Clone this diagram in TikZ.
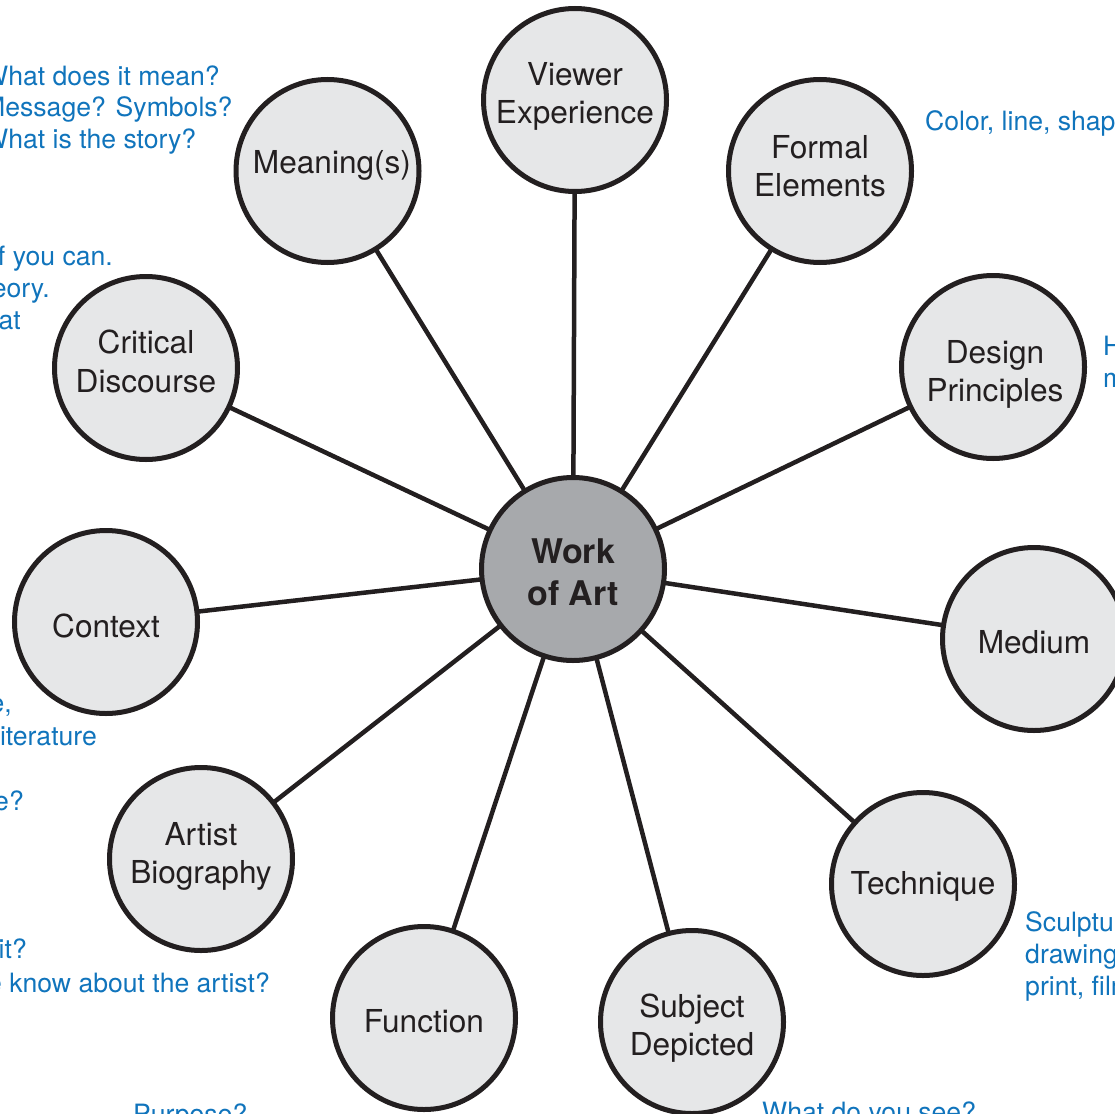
\documentclass[tikz,border=0pt]{standalone}
\usepackage{fontspec}
\setmainfont{TeX Gyre Heros}
\usetikzlibrary{backgrounds}
\definecolor{ink}{RGB}{35,31,32}
\definecolor{lightfill}{RGB}{230,231,232}
\definecolor{hubfill}{RGB}{167,169,172}
\definecolor{noteblue}{RGB}{16,116,188}
\begin{document}
\begin{tikzpicture}[x=1pt,y=-1pt,
  topic/.style={circle, draw=ink, line width=5pt, fill=lightfill, minimum size=183pt, inner sep=0pt},
  hub/.style={topic, fill=hubfill},
  lbl/.style={inner sep=0pt, anchor=base, text=ink, font=\fontsize{31.6}{38}\selectfont},
  hublbl/.style={lbl, font=\fontsize{34}{42}\selectfont\bfseries},
  link/.style={draw=ink, line width=4.5pt},
  note/.style={text=noteblue, inner sep=0pt, font=\fontsize{26.6}{31}\selectfont}]
\useasboundingbox (0,0) rectangle (1115,1113);
\clip (0,0) rectangle (1115,1113);

% circles
\node[hub]   (work) at (573,569) {};
\node[topic] (ve)   at (575,100) {};
\node[topic] (fe)   at (820,171) {};
\node[topic] (dp)   at (993,367) {};
\node[topic] (med)  at (1034,639) {};
\node[topic] (tech) at (923,884) {};
\node[topic] (subj) at (692,1022) {};
\node[topic] (func) at (424,1018) {};
\node[topic] (bio)  at (201,859) {};
\node[topic] (ctx)  at (106,622) {};
\node[topic] (crit) at (146,368) {};
\node[topic] (mean) at (327.5,171) {};

% connectors
\begin{scope}[on background layer]
\foreach \n in {ve,fe,dp,med,tech,subj,func,bio,ctx,crit,mean}
  \draw[link] (work.center) -- (\n.center);
\end{scope}

% circle texts
\node[hublbl] (work1) at (573,563) {Work};
\node[hublbl] (work2) at (573,605) {of Art};
\node[lbl] (ve1)   at (575,86)   {Viewer};
\node[lbl] (ve2)   at (575,124)  {Experience};
\node[lbl] (fe1)   at (820,158)  {Formal};
\node[lbl] (fe2)   at (820,196)  {Elements};
\node[lbl] (dp1)   at (995,363)  {Design};
\node[lbl] (dp2)   at (995,401)  {Principles};
\node[lbl] (med1)  at (1034,653) {Medium};
\node[lbl] (tech1) at (923,894)  {Technique};
\node[lbl] (subj1) at (692,1017) {Subject};
\node[lbl] (subj2) at (692,1055) {Depicted};
\node[lbl] (func1) at (424,1032) {Function};
\node[lbl] (bio1)  at (201,845)  {Artist};
\node[lbl] (bio2)  at (201,883)  {Biography};
\node[lbl] (ctx1)  at (106,637)  {Context};
\node[lbl] (crit1) at (146,353)  {Critical};
\node[lbl] (crit2) at (146,392)  {Discourse};
\node[lbl] (mean1) at (332,173)  {Meaning(s)};

% notes
\node[note, anchor=base west] (m1) at (-17,86)  {What does it mean?};
\node[note, anchor=base west] (m2) at (-17,117) {Message? Symbols?};
\node[note, anchor=base west] (m3) at (-17,148) {What is the story?};

\node[note, anchor=base east] (c1) at (113,265) {f you can.};
\node[note, anchor=base east] (c2) at (50,297)  {eory.};
\node[note, anchor=base east] (c3) at (21,329)  {at};

\node[note, anchor=base east] (x1) at (12,712)  {e,};
\node[note, anchor=base east] (x2) at (97,745)  {iterature};
\node[note, anchor=base east] (x3) at (24,810)  {e?};

\node[note, anchor=base east] (b1) at (27,958)  {it?};
\node[note, anchor=base east] (b2) at (270,992) {e know about the artist?};

\node[note, anchor=base west] (f1) at (133,1123) {Purpose?};
\node[note, anchor=base west] (s1) at (762,1121) {What do you see?};

\node[note, anchor=base west] (e1) at (925,131) {Color, line, shape};
\node[note, anchor=base west] (d1) at (1103,355) {H};
\node[note, anchor=base west] (d2) at (1103,387) {m};

\node[note, anchor=base west] (t1) at (1025,931) {Sculpture,};
\node[note, anchor=base west] (t2) at (1025,963) {drawing,};
\node[note, anchor=base west] (t3) at (1025,995) {print, film};
\end{tikzpicture}
\end{document}
